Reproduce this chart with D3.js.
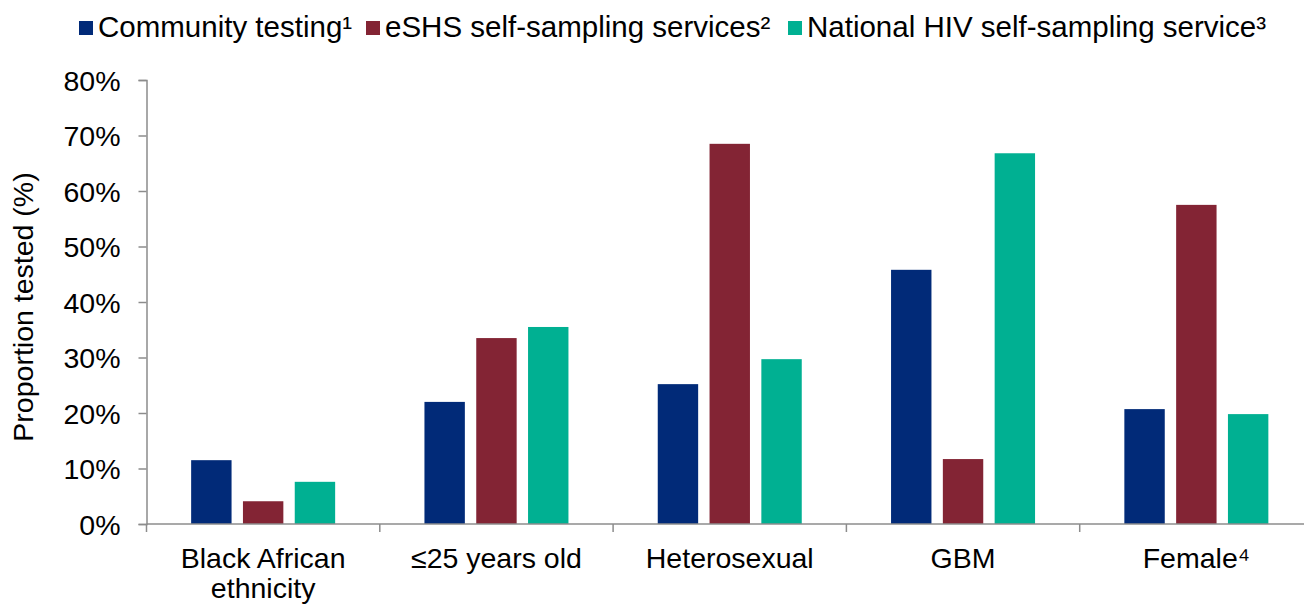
<!DOCTYPE html>
<html><head><meta charset="utf-8">
<script src="https://cdn.jsdelivr.net/npm/d3@7"></script>
<style>body{margin:0;background:#fff}svg{display:block}text{font-family:"Liberation Sans",Arial,sans-serif;fill:#000}</style>
</head><body><svg id="c" width="1304" height="606"></svg>
<script>
const categories = [["Black African","ethnicity"],["≤25 years old"],["Heterosexual"],["GBM"],["Female⁴"]];
const seriesNames = ["Community testing¹","eSHS self-sampling services²","National HIV self-sampling service³"];
const colors = ["#012a78","#832434","#00b092"];
const community = [11.5, 22.0, 25.2, 45.8, 20.7];
const eshs = [4.1, 33.5, 68.5, 11.7, 57.5];
const national = [7.6, 35.5, 29.7, 66.8, 19.8];
const yTicks = [0,10,20,30,40,50,60,70,80];
const series = [community, eshs, national];

const FS = 28.5;
const svg = d3.select("#c");
const x0 = 146.5, x1 = 1313, yb = 524, yt = 80;
const x = d3.scaleBand().domain(d3.range(categories.length)).range([x0, x1]).paddingInner(0).paddingOuter(0);
const y = d3.scaleLinear().domain([0,80]).range([yb, yt]);
const inner = d3.scaleBand().domain([0,1,2]).range([0,144]).paddingInner(0.22);
const off = (x.bandwidth()-144)/2;

series.forEach((vals, s) => {
  svg.append("g").selectAll("rect").data(vals).join("rect")
    .attr("x", (d,i) => x(i) + off + inner(s))
    .attr("width", inner.bandwidth())
    .attr("y", d => y(d))
    .attr("height", d => y(0) - y(d))
    .attr("fill", colors[s]);
});

const ya = svg.append("g").attr("transform", `translate(${x0},0)`)
  .call(d3.axisLeft(y).tickValues(yTicks).tickFormat(d => d + "%").tickSize(8).tickPadding(18));
ya.select(".domain").attr("stroke", "#8c8c8c").attr("stroke-width", 1.5);
ya.selectAll(".tick line").attr("stroke", "#8c8c8c").attr("stroke-width", 1.5);
ya.selectAll(".tick text").attr("font-size", FS).attr("font-family", "Liberation Sans, Arial, sans-serif").attr("fill", "#000").attr("dy", "0.36em");

const xa = svg.append("g").attr("transform", `translate(0,${yb})`);
xa.append("line").attr("x1", x0).attr("x2", x1).attr("stroke", "#8c8c8c").attr("stroke-width", 1.5);
xa.selectAll("line.t").data(d3.range(categories.length+1)).join("line").attr("class","t")
  .attr("x1", i => x0 + i*x.bandwidth()).attr("x2", i => x0 + i*x.bandwidth())
  .attr("y1", 0).attr("y2", 8).attr("stroke", "#8c8c8c").attr("stroke-width", 1.5);
categories.forEach((lines, i) => {
  const cx = x(i) + x.bandwidth()/2;
  const t = svg.append("text").attr("text-anchor", "middle").attr("font-size", FS)
    .attr("x", cx).attr("y", 568);
  lines.forEach((ln, j) => t.append("tspan").attr("x", cx).attr("dy", j ? 30 : 0).text(ln));
});

svg.append("text").attr("transform", "translate(33,307) rotate(-90)").attr("text-anchor", "middle")
  .attr("font-size", FS).text("Proportion tested (%)");

const legendX = [79, 366, 788];
seriesNames.forEach((n, i) => {
  svg.append("rect").attr("x", legendX[i]).attr("y", 21).attr("width", 14).attr("height", 14).attr("fill", colors[i]);
  svg.append("text").attr("x", legendX[i] + 19).attr("y", 37).attr("font-size", 29.5).text(n);
});
</script></body></html>
